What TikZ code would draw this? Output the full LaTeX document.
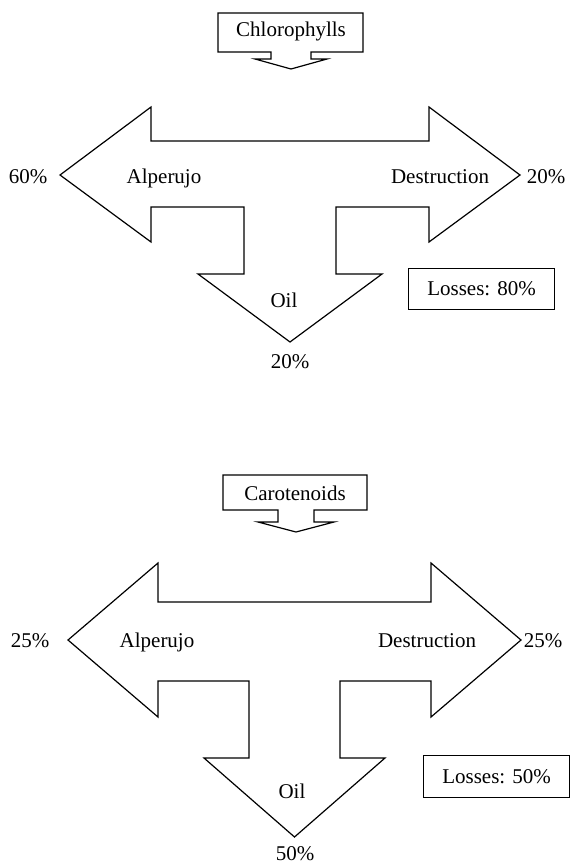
\documentclass[tikz,border=0pt]{standalone}
\usepackage{fontspec}
\setmainfont{Liberation Serif}
\tikzset{>=latex}
\tikzset{
  outline/.style={draw,line width=0.9pt,line join=miter},
  lbl/.style={anchor=base,inner sep=0pt,font=\fontsize{15.75}{18}\selectfont},
  lossbox/.style={draw,line width=0.9pt,inner sep=0pt,minimum width=110pt,
    minimum height=31pt,font=\fontsize{15.75}{18}\selectfont}
}

\begin{document}
\begin{tikzpicture}[x=0.75pt,y=-0.75pt]
  \useasboundingbox (0,0) rectangle (573,864);

  % chlorophylls
  \draw[outline] (218,13) -- (363,13) -- (363,52) -- (311,52) -- (311,59)
    -- (327,59) -- (291,69) -- (255,59) -- (271,59) -- (271,52)
    -- (218,52) -- cycle;
  \node[lbl] (chl) at (291,36) {Chlorophylls};
  \draw[outline] (60,175) -- (151,107) -- (151,141) -- (429,141)
    -- (429,107) -- (520,175) -- (429,242) -- (429,207) -- (336,207)
    -- (336,274) -- (382,274) -- (290,342) -- (198,274) -- (244,274)
    -- (244,207) -- (151,207) -- (151,242) -- cycle;
  \node[lbl] (alpA) at (164,183) {Alperujo};
  \node[lbl] (desA) at (440,183) {Destruction};
  \node[lbl] (oilA) at (284,307) {Oil};
  \node[lbl] (leftA) at (28,183) {60\%};
  \node[lbl] (rightA) at (546,183) {20\%};
  \node[lbl] (downA) at (290,368) {20\%};
  \node[lossbox] (lossA) at (481.5,289) {Losses: 80\%};

  % carotenoids
  \draw[outline] (223,475) -- (367,475) -- (367,510) -- (314,510)
    -- (314,522) -- (334,522) -- (296,532) -- (258,522) -- (278,522)
    -- (278,510) -- (223,510) -- cycle;
  \node[lbl] (car) at (295,500) {Carotenoids};
  \draw[outline] (68,640) -- (158,563) -- (158,602) -- (431,602)
    -- (431,563) -- (521,640) -- (431,717) -- (431,681) -- (340,681)
    -- (340,758) -- (385,758) -- (294.5,837) -- (204,758) -- (249,758)
    -- (249,681) -- (158,681) -- (158,717) -- cycle;
  \node[lbl] (alpB) at (157,647) {Alperujo};
  \node[lbl] (desB) at (427,647) {Destruction};
  \node[lbl] (oilB) at (292,798) {Oil};
  \node[lbl] (leftB) at (30,647) {25\%};
  \node[lbl] (rightB) at (543,647) {25\%};
  \node[lbl] (downB) at (295,860) {50\%};
  \node[lossbox] (lossB) at (496.5,776.5) {Losses: 50\%};
\end{tikzpicture}
\end{document}
